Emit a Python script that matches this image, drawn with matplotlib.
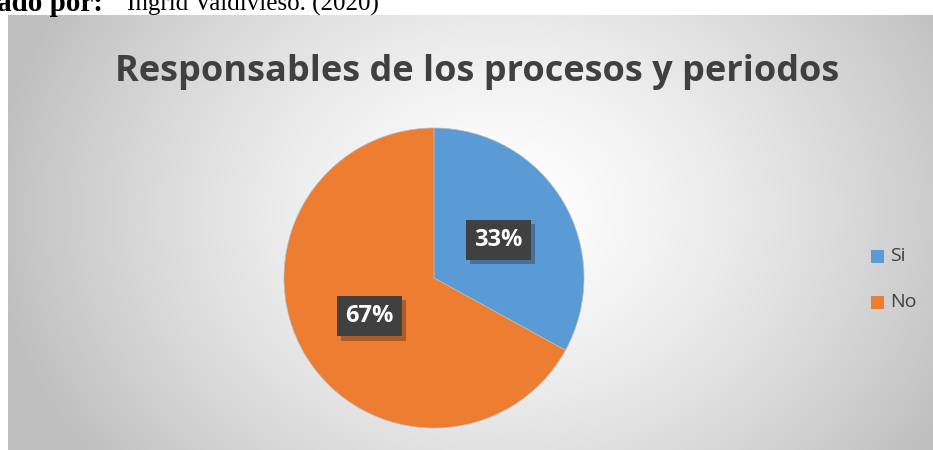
import numpy as np
import matplotlib
matplotlib.use("Agg")
import matplotlib.pyplot as plt
from matplotlib import patheffects as pe

labels = ["Si", "No"]
values = [33, 67]
colors = ["#5B9BD5", "#ED7D31"]
title = "Responsables de los procesos y periodos"

W, H = 933, 450
fig = plt.figure(figsize=(W / 100, H / 100), dpi=100)
fig.patch.set_facecolor("white")

# chart area box (pixels): left 8, top 15, to right/bottom edge
bx0, by0 = 8 / W, 0.0
bw, bh = 1 - bx0, (H - 15) / H
bg = fig.add_axes([bx0, by0, bw, bh])
ny, nx = 200, 400
yy, xx = np.mgrid[0:ny, 0:nx]
cx, cy = nx * 0.53, ny * 0.45
d = np.sqrt(((xx - cx) / (nx * 0.55)) ** 2 + ((yy - cy) / (ny * 0.95)) ** 2)
d = np.clip(d, 0, 1)
v = 1.0 - 0.25 * d ** 1.4
img = np.dstack([v, v, v])
bg.imshow(img, aspect="auto", extent=[0, 1, 0, 1], interpolation="bicubic")
bg.set_axis_off()

# top caption, partially cut as in the reference
fig.text(-3 / W, 1 - 11 / H, "ado por:", fontfamily="Liberation Serif",
         fontweight="bold", fontsize=21, ha="left", va="baseline", color="black")
fig.text(127 / W, 1 - 11 / H, "Ingrid Valdivieso. (2020)", fontfamily="Liberation Serif",
         fontsize=18, ha="left", va="baseline", color="black")

# title
fig.text(477 / W, 1 - 72 / H, title, fontfamily="Open Sans", fontweight="bold",
         fontsize=26, color="#404040", ha="center", va="center")

# pie axes: center (434, 278), radius 150
r = 150
cxp, cyp = 434, 278
ax = fig.add_axes([(cxp - r) / W, (H - cyp - r) / H, 2 * r / W, 2 * r / H])
wedges, texts, autotexts = ax.pie(values, colors=colors, startangle=90, counterclock=False,
                                  autopct="%1.0f%%", pctdistance=0.5, radius=1.0,
                                  wedgeprops=dict(linewidth=0.5, edgecolor="#bbbbbb"),
                                  textprops=dict(color="white", fontsize=17, fontweight="bold",
                                                 fontfamily="Open Sans"))
ax.set_xlim(-1, 1)
ax.set_ylim(-1, 1)
ax.set_aspect("equal")
for t in autotexts:
    t.set_bbox(dict(boxstyle="square,pad=0.35", facecolor="#404040", edgecolor="none"))
    t.get_bbox_patch().set_path_effects([pe.SimplePatchShadow(offset=(3, -3), alpha=0.3),
                                         pe.Normal()])

# legend
for i, (lab, col) in enumerate(zip(labels, colors)):
    y = 1 - (256 + 46 * i) / H
    fig.patches.append(plt.Rectangle((871 / W, y - 6.5 / H), 13 / W, 13 / H,
                                     transform=fig.transFigure, facecolor=col,
                                     edgecolor="none"))
    fig.text(890 / W, y, lab, fontfamily="Open Sans", fontsize=14, color="#404040",
             ha="left", va="center")

fig.savefig("out.png", dpi=100)
